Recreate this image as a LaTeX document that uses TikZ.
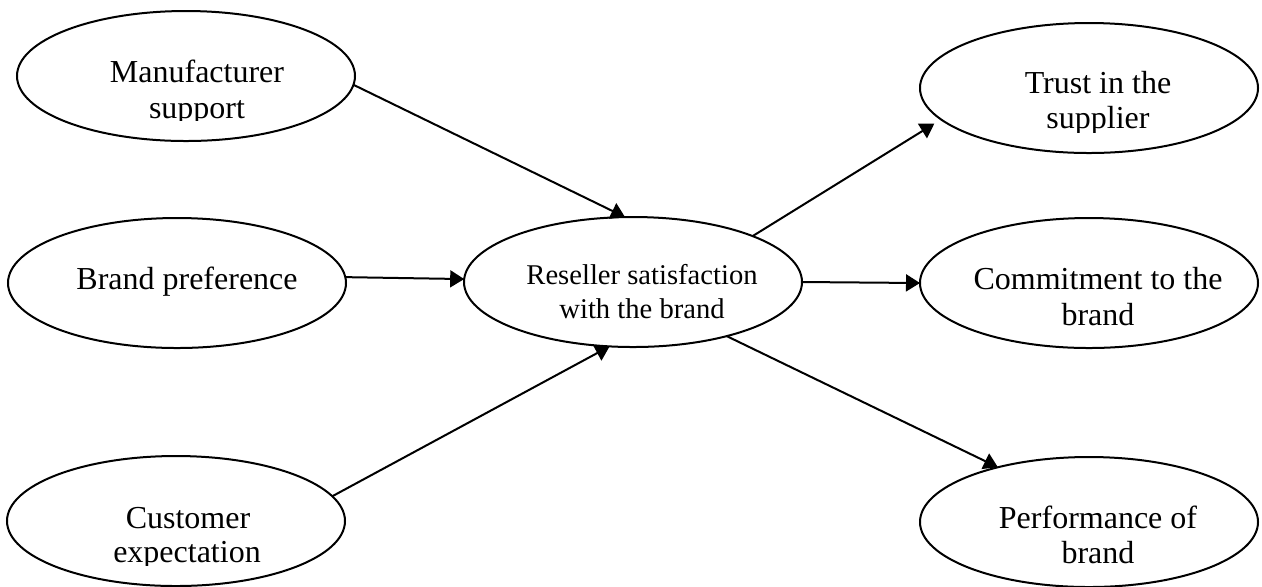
\documentclass[tikz,border=0pt]{standalone}
\usepackage{fontspec}
\setmainfont{Liberation Serif}
\usetikzlibrary{shapes.geometric,arrows.meta}
\begin{document}
\begin{tikzpicture}[x=0.5pt,y=-0.5pt,
  oval/.style={ellipse,draw,line width=1pt,minimum width=169pt,minimum height=65pt,inner sep=0pt,outer sep=0pt},
  txt/.style={anchor=base,inner sep=0pt,font=\fontsize{16}{18}\selectfont},
  smalltxt/.style={anchor=base,inner sep=0pt,font=\fontsize{14.3}{17}\selectfont},
  arr/.style={line width=1pt,-{Triangle[length=7pt,width=8.5pt]}}]
\useasboundingbox (0,0) rectangle (1262,586);

% ellipses
\node[oval] (man) at (186,76) {};
\node[oval] (brand) at (177,283) {};
\node[oval] (cust) at (176,521) {};
\node[oval] (res) at (633,282) {};
\node[oval] (trust) at (1089,88) {};
\node[oval] (comm) at (1089,283) {};
\node[oval] (perf) at (1089,522) {};

% texts
\node[txt] (manA) at (197,82) {Manufacturer};
\begin{scope}
  \clip (100,90) rectangle (300,120);
  \node[txt] (manB) at (197,118) {support};
\end{scope}
\node[txt] (brandA) at (187,289) {Brand preference};
\node[txt] (custA) at (188,528) {Customer};
\begin{scope}
  \clip (90,535) rectangle (290,565);
  \node[txt] (custB) at (187,562) {expectation};
\end{scope}
\node[smalltxt] (resA) at (642,284) {Reseller satisfaction};
\node[smalltxt] (resB) at (642,318) {with the brand};
\node[txt] (trustA) at (1098,93) {Trust in the};
\begin{scope}
  \clip (1000,100) rectangle (1200,132);
  \node[txt] (trustB) at (1098,128) {supplier};
\end{scope}
\node[txt] (commA) at (1098,289) {Commitment to the};
\node[txt] (commB) at (1098,325) {brand};
\node[txt] (perfA) at (1098,528) {Performance of};
\node[txt] (perfB) at (1098,563) {brand};

% connectors
\draw[arr] (man.-3) -- (res.97);
\draw[arr] (brand.2) -- (res.179);
\draw[arr] (cust.9) -- (res.-110);
\draw[arr, shorten >=4pt] (res.21) -- (trust.192);
\draw[arr] (res.east) -- (comm.west);
\draw[arr] (res.-30) -- (perf.149);
\end{tikzpicture}
\end{document}
